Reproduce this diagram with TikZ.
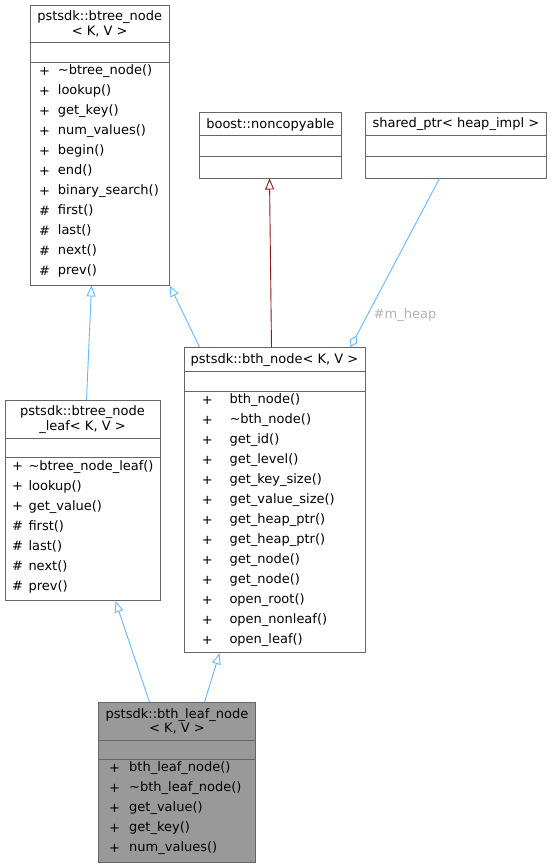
\documentclass[tikz,border=0pt]{standalone}
\usepackage{fontspec}
\setmainfont{DejaVu Sans}
\usepackage{xcolor}
\usepackage{tikz}
\usetikzlibrary{arrows.meta, positioning}

\definecolor{edgeblue}{HTML}{63B8FF}
\definecolor{edgered}{HTML}{8B1A1A}
\definecolor{boxgray}{HTML}{666666}

\begin{document}
\begin{tikzpicture}[
  x=1pt, y=-1pt,
  font=\fontsize{13}{14.3}\selectfont,
  cls/.style={rectangle,draw=boxgray,line width=1pt,fill=white,inner sep=0pt},
  title/.style={align=center,inner sep=0pt},
  members/.style={align=left,inner sep=0pt,anchor=west,font=\fontsize{13}{20}\selectfont},
  inherit/.style={draw=edgeblue,line width=0.9pt,-{Triangle[open,length=11pt,width=9pt]}},
  inheritred/.style={draw=edgered,line width=0.9pt,-{Triangle[open,length=11pt,width=9pt]}},
  usage/.style={draw=edgeblue,line width=0.9pt,-{Diamond[open,length=13pt,width=8pt]}},
  lbl/.style={text=black!30,inner sep=0pt}
]
\useasboundingbox (0,0) rectangle (552,868);

% btree_node
\node[cls,minimum width=139.3pt,minimum height=280pt] (btree) at (99.65,145) {};
\node[title] (btreet) at (99.7,23.8) {pstsdk::btree\_node\\< K, V >};
\draw[boxgray,line width=1pt] (btree.west |- 0,42.7) -- (btree.east |- 0,42.7);
\draw[boxgray,line width=1pt] (btree.west |- 0,62.3) -- (btree.east |- 0,62.3);
\node[members] (btreev) at (39,171.3) {+\\+\\+\\+\\+\\+\\+\\\#\\\#\\\#\\\#};
\node[members] (btreem) at (57.7,171.3) {\textasciitilde btree\_node()\\lookup()\\get\_key()\\num\_values()\\begin()\\end()\\binary\_search()\\first()\\last()\\next()\\prev()};

% boost::noncopyable
\node[cls,minimum width=141.3pt,minimum height=65.7pt] (noncopy) at (270.35,145.15) {};
\node[title] (noncopyt) at (270.35,124.5) {boost::noncopyable};
\draw[boxgray,line width=1pt] (noncopy.west |- 0,135.7) -- (noncopy.east |- 0,135.7);
\draw[boxgray,line width=1pt] (noncopy.west |- 0,156) -- (noncopy.east |- 0,156);

% shared_ptr
\node[cls,minimum width=181.7pt,minimum height=65.7pt] (heapptr) at (455.85,145.15) {};
\node[title] (heapptrt) at (455.85,124.5) {shared\_ptr< heap\_impl >};
\draw[boxgray,line width=1pt] (heapptr.west |- 0,135.7) -- (heapptr.east |- 0,135.7);
\draw[boxgray,line width=1pt] (heapptr.west |- 0,156) -- (heapptr.east |- 0,156);

% bth_node
\node[cls,minimum width=181pt,minimum height=305.2pt] (bthn) at (274.5,500.1) {};
\node[title] (bthnt) at (274.5,360.2) {pstsdk::bth\_node< K, V >};
\draw[boxgray,line width=1pt] (bthn.west |- 0,371.7) -- (bthn.east |- 0,371.7);
\draw[boxgray,line width=1pt] (bthn.west |- 0,391) -- (bthn.east |- 0,391);
\node[members] (bthnv) at (201.7,520.3) {+\\+\\+\\+\\+\\+\\+\\+\\+\\+\\+\\+\\+};
\node[members] (bthnm) at (229.3,520.3) {bth\_node()\\\textasciitilde bth\_node()\\get\_id()\\get\_level()\\get\_key\_size()\\get\_value\_size()\\get\_heap\_ptr()\\get\_heap\_ptr()\\get\_node()\\get\_node()\\open\_root()\\open\_nonleaf()\\open\_leaf()};

% btree_node_leaf
\node[cls,minimum width=155pt,minimum height=200pt] (btleaf) at (82.5,500.7) {};
\node[title] (btleaft) at (82.5,419.5) {pstsdk::btree\_node\\\_leaf< K, V >};
\draw[boxgray,line width=1pt] (btleaf.west |- 0,438.3) -- (btleaf.east |- 0,438.3);
\draw[boxgray,line width=1pt] (btleaf.west |- 0,457.7) -- (btleaf.east |- 0,457.7);
\node[members] (btleafv) at (12,526.7) {+\\+\\+\\\#\\\#\\\#\\\#};
\node[members] (btleafm) at (28.3,526.7) {\textasciitilde btree\_node\_leaf()\\lookup()\\get\_value()\\first()\\last()\\next()\\prev()};

% bth_leaf_node
\node[cls,fill=black!40,minimum width=157.4pt,minimum height=160pt] (bthleaf) at (177,782.7) {};
\node[title] (bthleaft) at (177,721.2) {pstsdk::bth\_leaf\_node\\< K, V >};
\draw[boxgray,line width=1pt] (bthleaf.west |- 0,740) -- (bthleaf.east |- 0,740);
\draw[boxgray,line width=1pt] (bthleaf.west |- 0,759.3) -- (bthleaf.east |- 0,759.3);
\node[members] (bthleafv) at (109,808.3) {+\\+\\+\\+\\+};
\node[members] (bthleafm) at (129,808.3) {bth\_leaf\_node()\\\textasciitilde bth\_leaf\_node()\\get\_value()\\get\_key()\\num\_values()};

% edges
\draw[inherit] ([xshift=82pt]btleaf.north west) -- ([xshift=62pt]btree.south west);
\draw[inherit] ([xshift=16pt]bthn.north west) -- (btree.south east);
\draw[inheritred] ([xshift=88pt]bthn.north west) -- ([xshift=70.3pt]noncopy.south west);
\draw[usage] ([xshift=75pt]heapptr.south west) -- ([xshift=-15pt]bthn.north east);
\node[lbl] (heaplbl) at (405,315.5) {\#m\_heap};
\draw[inherit] ([xshift=51.7pt]bthleaf.north west) -- ([xshift=111pt]btleaf.south west);
\draw[inherit] ([xshift=106.7pt]bthleaf.north west) -- ([xshift=36pt]bthn.south west);
\end{tikzpicture}
\end{document}
